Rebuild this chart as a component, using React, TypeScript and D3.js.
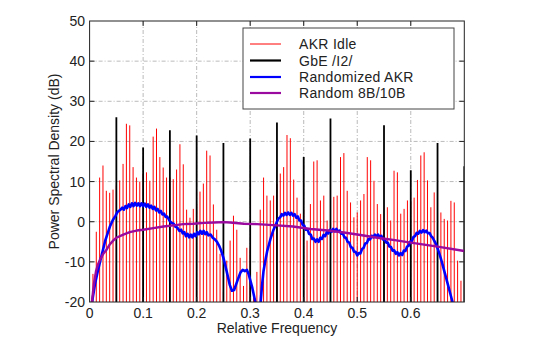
import React from "react";
import * as d3 from "d3";

// ---- data ----
const akrIdleStep = 1 / 160; // spacing of AKR idle spectral lines (relative freq)
const akrIdleDb = [
  -13, -2.5, 11, 14, 7.7, 7.2, 8, 9, 10.3, 14.4, 24.4, 24, 13.6, 11, 10, 12,
  12.3, 10.2, 21.2, 23.2, 16.1, 13.5, 11, 11, 10.6, 13, 19.3, 14.3, 3, 1, 3.2, 4.4,
  7.5, 9.5, 17.7, 16.5, 4.3, -2, -8, -17.5, -9.7, -4.7, 1.5, -2, -9, -16, -6.5, -7,
  -18, -12.5, 3, 11, 6.5, 5.3, 6.5, 9.4, 12, 13.6, 21.6, 20.8, 10.5, 6, 2, 3,
  -4.7, 4.4, 15, 15.3, 5.3, 6.5, 0.3, 0.5, 6.2, 6.5, 16.1, 17.1, 7.7, 4.8, 1.1, 2.3,
  5.3, 6.9, 16.1, 15.3, 10.2, 4.4, 1.9, 0, 3.6, 0.3, 12.7, 12.3, 2, 3.2, 5.3, 5,
  6, 10.4, 16.5, 17.3, 10.3, 3.6, 7.3, 2, 2.3, 0.7, 0.3, 5.2, 4.8, -9.7, -14.7,
];

const gbeFreq = [0.05, 0.1, 0.15, 0.2, 0.25, 0.3, 0.35, 0.4, 0.45, 0.55, 0.6, 0.65, 0.7];
const gbeDb = [26, 18.5, 22.8, 21.5, 19.6, 20.7, 24.7, 16.1, 25.7, 24, 12.8, 19.6, 13.8];

const randAkrFreq = [
  0.004, 0.01, 0.015, 0.02, 0.025, 0.029, 0.034, 0.038, 0.043, 0.048, 0.052, 0.057, 0.061, 0.064, 0.067, 0.07,
  0.073, 0.076, 0.079, 0.082, 0.085, 0.088, 0.091, 0.094, 0.097, 0.1, 0.103, 0.106, 0.109, 0.112, 0.115, 0.118,
  0.121, 0.124, 0.127, 0.13, 0.133, 0.136, 0.139, 0.142, 0.145, 0.149, 0.153, 0.157, 0.16, 0.164, 0.168, 0.171,
  0.174, 0.177, 0.18, 0.183, 0.186, 0.189, 0.192, 0.195, 0.198, 0.201, 0.204, 0.207, 0.21, 0.213, 0.216, 0.219,
  0.222, 0.226, 0.23, 0.234, 0.238, 0.242, 0.246, 0.25, 0.254, 0.258, 0.262, 0.266, 0.27, 0.274, 0.278, 0.282,
  0.286, 0.29, 0.294, 0.297, 0.3, 0.304, 0.308, 0.312, 0.316, 0.319, 0.322, 0.325, 0.329, 0.332, 0.336, 0.339,
  0.343, 0.347, 0.35, 0.353, 0.356, 0.359, 0.362, 0.365, 0.368, 0.371, 0.374, 0.377, 0.38, 0.383, 0.386, 0.389,
  0.392, 0.395, 0.398, 0.401, 0.404, 0.407, 0.41, 0.413, 0.416, 0.419, 0.422, 0.425, 0.428, 0.431, 0.434, 0.437,
  0.44, 0.443, 0.446, 0.449, 0.452, 0.455, 0.458, 0.461, 0.464, 0.467, 0.47, 0.473, 0.476, 0.479, 0.482, 0.485,
  0.488, 0.491, 0.494, 0.497, 0.5, 0.503, 0.506, 0.509, 0.512, 0.515, 0.518, 0.521, 0.524, 0.527, 0.53, 0.533,
  0.536, 0.539, 0.542, 0.545, 0.548, 0.551, 0.554, 0.557, 0.56, 0.563, 0.566, 0.569, 0.572, 0.575, 0.578, 0.581,
  0.584, 0.587, 0.59, 0.593, 0.596, 0.599, 0.602, 0.605, 0.608, 0.611, 0.614, 0.617, 0.62, 0.623, 0.626, 0.629,
  0.632, 0.635, 0.638, 0.641, 0.644, 0.647, 0.65, 0.654, 0.658, 0.662, 0.666, 0.67, 0.674, 0.677, 0.679,
];
const randAkrDb = [
  -20.5, -15.6, -12.5, -9.7, -7, -4.8, -2.8, -1.2, 0.3, 1.4, 2.4, 2.9, 3.5, 3.0, 3.9, 3.4,
  4.3, 3.7, 4.6, 3.9, 4.7, 4.0, 4.6, 3.9, 4.6, 3.9, 4.5, 3.7, 4.3, 3.5, 4.0, 3.2,
  3.7, 2.8, 3.2, 2.3, 2.7, 1.8, 2.0, 1.2, 1.3, 0.3, -0.3, -0.5, -1.2, -1.5, -2.3, -2.0,
  -2.9, -2.6, -3.6, -3.0, -3.9, -3.2, -3.9, -3.0, -3.6, -2.6, -3.1, -2.3, -3.0, -2.3, -3.1, -2.6,
  -3.4, -3.2, -4.0, -4.4, -5.0, -6.0, -7.3, -9.0, -11.2, -13.5, -15.8, -17.2, -17.0, -15.5, -14.0, -12.6,
  -12.0, -12.3, -12.0, -13.0, -14.5, -16.5, -19.0, -21.5, -23, -21, -16, -12.2, -9.2, -7.2, -5.2, -3.8,
  -2.2, -1.0, 0.0, 0.8, 1.1, 1.9, 1.5, 2.2, 1.7, 2.3, 1.7, 2.2, 1.5, 1.9, 1.0, 1.3,
  0.3, 0.3, -0.8, -1.0, -2.0, -1.9, -3.0, -3.2, -4.3, -4.2, -5.0, -4.4, -5.0, -4.0, -4.3, -3.3,
  -3.6, -2.6, -2.9, -2.0, -2.5, -1.8, -2.4, -1.8, -2.5, -2.2, -3.0, -2.9, -3.9, -4.0, -5.0, -5.2,
  -6.3, -6.5, -7.5, -7.5, -8.4, -7.8, -7.9, -6.8, -6.5, -5.4, -5.3, -4.3, -4.4, -3.5, -3.9, -3.2,
  -3.8, -3.2, -3.9, -3.5, -4.4, -4.3, -5.2, -5.2, -6.2, -6.3, -7.2, -7.1, -8.0, -7.6, -8.4, -7.8,
  -8.3, -7.2, -7.3, -6.2, -6.0, -5.0, -4.8, -3.8, -3.6, -2.8, -3.0, -2.3, -2.7, -2.1, -2.6, -2.2,
  -2.9, -2.8, -3.6, -4.0, -4.8, -5.5, -6.6, -8.2, -10.0, -12.0, -14.0, -16.0, -18.0, -19.5, -20.5,
];

const rand8b10bFreq = [
  0.004, 0.008, 0.012, 0.016, 0.02, 0.026, 0.032, 0.038, 0.044, 0.05, 0.063, 0.075, 0.088, 0.1, 0.119, 0.138,
  0.157, 0.175, 0.194, 0.213, 0.232, 0.25, 0.263, 0.288, 0.313, 0.35, 0.38, 0.413, 0.445, 0.475, 0.5, 0.538,
  0.57, 0.6, 0.65, 0.7,
];
const rand8b10bDb = [
  -20.5, -15.5, -12.3, -10.5, -9.3, -7.9, -6.9, -5.6, -4.7, -4.0, -3.2, -2.6, -2.2, -2.0, -1.6, -1.2,
  -0.9, -0.6, -0.5, -0.3, -0.2, -0.1, -0.2, -0.5, -0.6, -0.9, -1.2, -1.8, -2.2, -2.7, -3.2, -4.0,
  -4.6, -5.2, -6.2, -7.3,
];

const xTicks = [0, 0.1, 0.2, 0.3, 0.4, 0.5, 0.6];
const xTickLabels = ["0", "0.1", "0.2", "0.3", "0.4", "0.5", "0.6"];
const yTicks = [-20, -10, 0, 10, 20, 30, 40, 50];
const legendLabels = ["AKR Idle", "GbE /I2/", "Randomized AKR", "Random 8B/10B"];

// ---- style ----
const COLORS = ["#ff0000", "#000000", "#0000ff", "#9a0a9e"];
const WIDTHS = [1, 1.8, 2.6, 2.4];
const FONT = "'Liberation Sans', Arial, sans-serif";

export default function App() {
  const W = 554, H = 340;
  const left = 89.6, right = 464.3, top = 21, bottom = 302;
  const x = d3.scaleLinear().domain([0, 0.7]).range([left, right]);
  const y = d3.scaleLinear().domain([-20, 50]).range([bottom, top]);

  const blue = d3.line<number>().x((_, i) => x(randAkrFreq[i])).y((d) => y(d));
  const purple = d3.line<number>().x((_, i) => x(rand8b10bFreq[i])).y((d) => y(d));

  const tickLen = 5;
  const gridStroke = "#a8a8a8";
  const dash = "4,2,1,2";

  const legX = 243, legY = 28, legW = 211, legH = 81;
  const legRows = [44, 60.5, 77, 93];

  return (
    <div style={{ position: "absolute", left: 0, top: 0 }}>
      <svg width={W} height={H} style={{ display: "block", background: "#fff" }} fontFamily={FONT}>
        <defs>
          <clipPath id="plotclip">
            <rect x={left} y={top} width={right - left} height={bottom - top} />
          </clipPath>
        </defs>
        <rect x={left} y={top} width={right - left} height={bottom - top} fill="#fff" />
        {/* grid */}
        {xTicks.slice(1).map((t) => (
          <line key={"gx" + t} x1={x(t)} x2={x(t)} y1={top} y2={bottom} stroke={gridStroke} strokeWidth={0.8} strokeDasharray={dash} />
        ))}
        {yTicks.slice(1, -1).map((t) => (
          <line key={"gy" + t} x1={left} x2={right} y1={y(t)} y2={y(t)} stroke={gridStroke} strokeWidth={0.8} strokeDasharray={dash} />
        ))}
        <g clipPath="url(#plotclip)">
          {/* AKR idle lines */}
          {akrIdleDb.map((v, i) => (
            <line key={"r" + i} x1={x((i + 1) * akrIdleStep)} x2={x((i + 1) * akrIdleStep)} y1={y(-20)} y2={y(v)} stroke={COLORS[0]} strokeWidth={WIDTHS[0]} />
          ))}
          {/* GbE lines */}
          {gbeDb.map((v, i) => (
            <line key={"b" + i} x1={x(gbeFreq[i])} x2={x(gbeFreq[i])} y1={y(-20)} y2={y(v)} stroke={COLORS[1]} strokeWidth={WIDTHS[1]} />
          ))}
          <path d={blue(randAkrDb) || ""} fill="none" stroke={COLORS[2]} strokeWidth={WIDTHS[2]} strokeLinejoin="round" />
          <path d={purple(rand8b10bDb) || ""} fill="none" stroke={COLORS[3]} strokeWidth={WIDTHS[3]} strokeLinejoin="round" />
        </g>
        {/* frame */}
        <rect x={left} y={top} width={right - left} height={bottom - top} fill="none" stroke="#222" strokeWidth={1} />
        {/* ticks */}
        {xTicks.slice(1).map((t) => (
          <g key={"tx" + t}>
            <line x1={x(t)} x2={x(t)} y1={bottom} y2={bottom - tickLen} stroke="#222" />
            <line x1={x(t)} x2={x(t)} y1={top} y2={top + tickLen} stroke="#222" />
          </g>
        ))}
        {yTicks.slice(1, -1).map((t) => (
          <g key={"ty" + t}>
            <line x1={left} x2={left + tickLen} y1={y(t)} y2={y(t)} stroke="#222" />
            <line x1={right} x2={right - tickLen} y1={y(t)} y2={y(t)} stroke="#222" />
          </g>
        ))}
        {/* tick labels */}
        {xTicks.map((t, i) => (
          <text key={"lx" + t} x={x(t)} y={318} textAnchor="middle" fontSize={14} fill="#222">
            {xTickLabels[i]}
          </text>
        ))}
        {yTicks.map((t) => (
          <text key={"ly" + t} x={85} y={y(t) + 5} textAnchor="end" fontSize={14} fill="#222">
            {t}
          </text>
        ))}
        <text x={(left + right) / 2} y={333} textAnchor="middle" fontSize={14} fill="#222">
          Relative Frequency
        </text>
        <text transform={`translate(59,${(top + bottom) / 2}) rotate(-90)`} textAnchor="middle" fontSize={14} fill="#222">
          Power Spectral Density (dB)
        </text>
        {/* legend */}
        <rect x={legX} y={legY} width={legW} height={legH} fill="#fff" stroke="#444" strokeWidth={1} />
        {legendLabels.map((lab, i) => (
          <g key={"lg" + i}>
            <line x1={250} x2={281} y1={legRows[i]} y2={legRows[i]} stroke={COLORS[i]} strokeWidth={i === 0 ? 1 : 2.2} />
            <text x={299} y={legRows[i] + 5} fontSize={14} fill="#222" letterSpacing={0.3}>
              {lab}
            </text>
          </g>
        ))}
      </svg>
    </div>
  );
}
